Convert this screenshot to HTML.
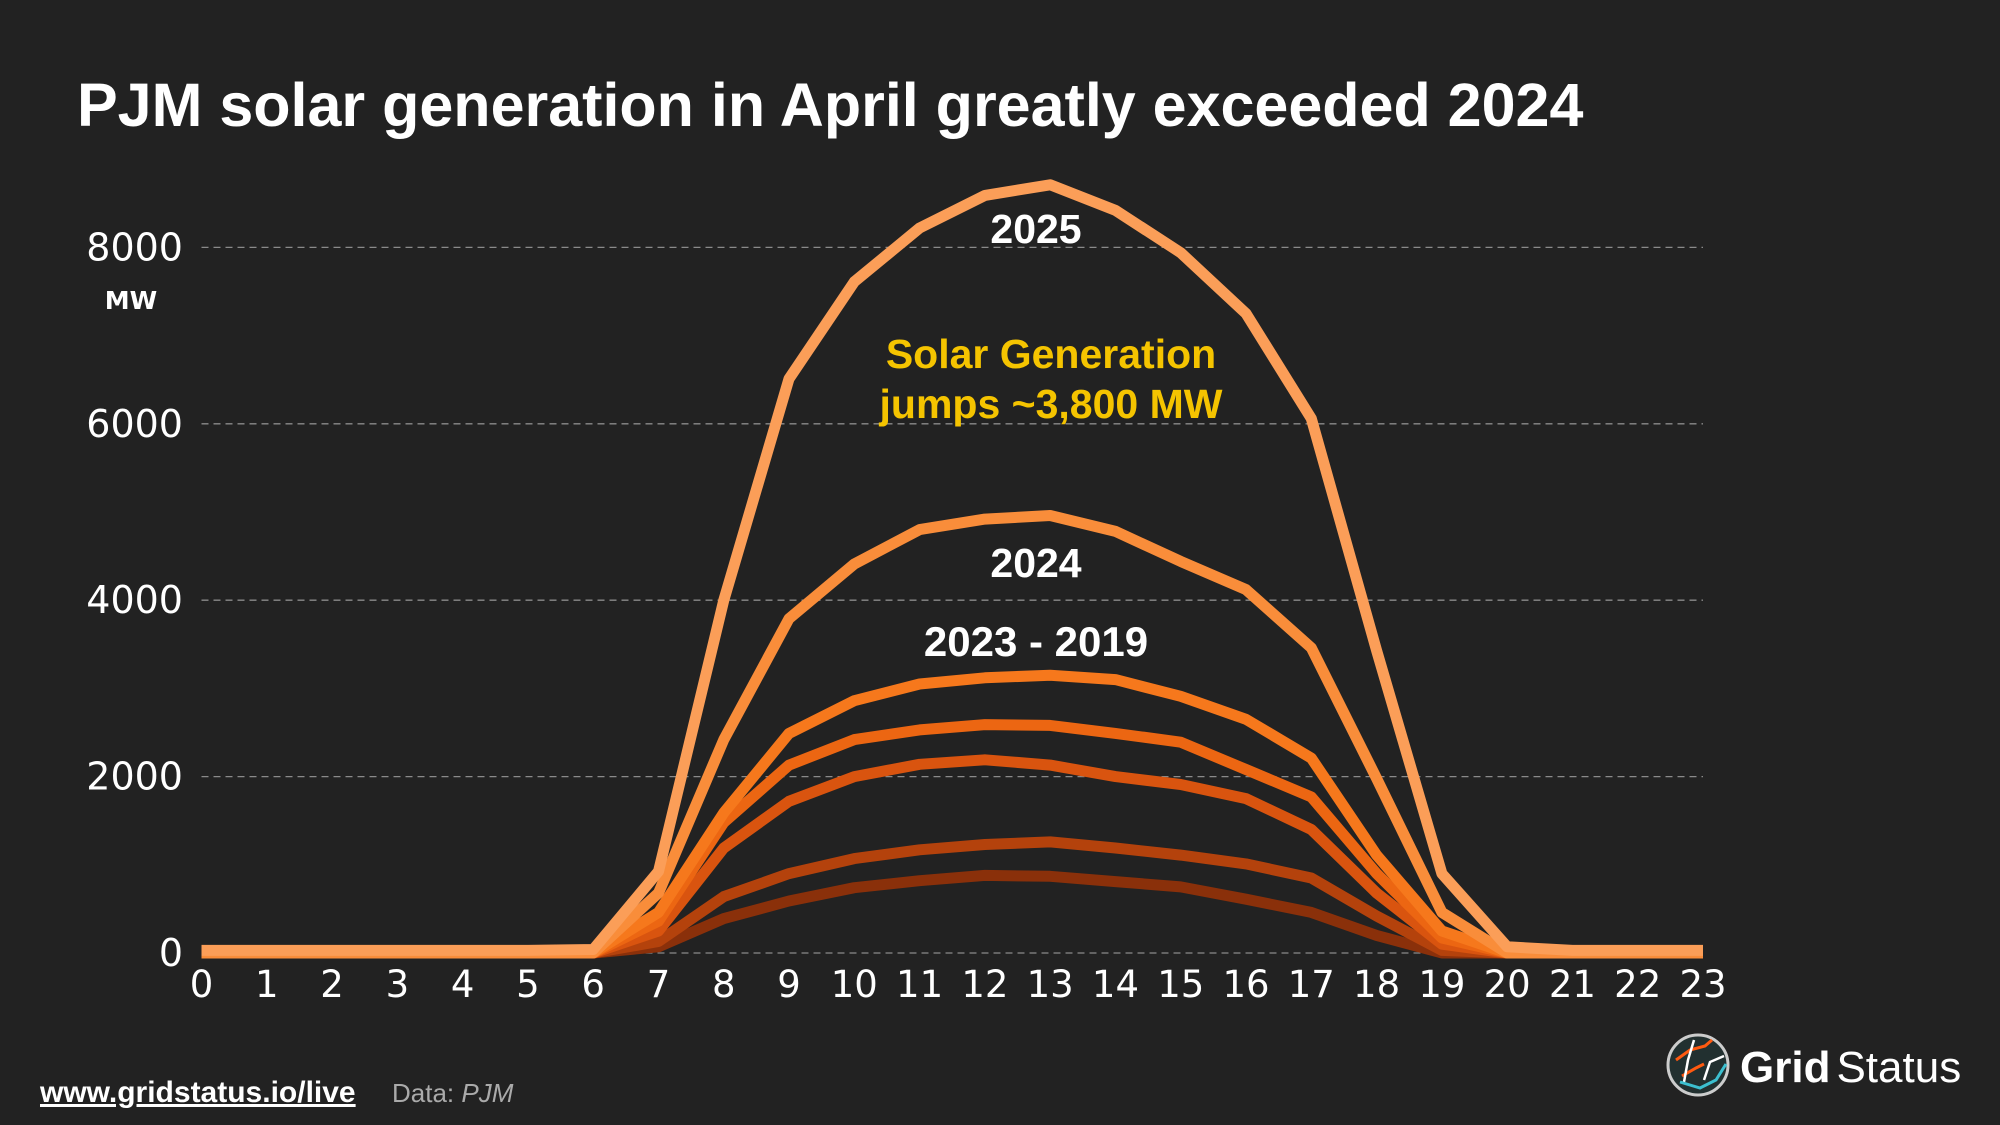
<!DOCTYPE html>
<html><head><meta charset="utf-8"><style>
html,body{margin:0;padding:0;background:#222222;}
svg{display:block;font-family:"Liberation Sans",sans-serif;}
</style></head><body>
<svg id="chart" width="2000" height="1125" viewBox="0 0 2000 1125">
<rect width="2000" height="1125" fill="#222222"/>
<text x="77" y="126" fill="#ffffff" font-size="61" font-weight="bold">PJM solar generation in April greatly exceeded 2024</text>
<g id="grid"></g>
<g id="yticks"></g>
<g id="xticks"></g>
<text x="131" y="309" fill="#ffffff" font-size="25" font-weight="bold" font-family="DejaVu Sans, sans-serif" text-anchor="middle">MW</text>
<g id="series"></g>
<text x="1036" y="243" fill="#ffffff" font-size="41" font-weight="bold" text-anchor="middle">2025</text>
<text x="1051" y="368" fill="#f5c400" font-size="41" font-weight="bold" text-anchor="middle">Solar Generation</text>
<text x="1051" y="418" fill="#f5c400" font-size="41" font-weight="bold" text-anchor="middle">jumps ~3,800 MW</text>
<text x="1036" y="577" fill="#ffffff" font-size="41" font-weight="bold" text-anchor="middle">2024</text>
<text x="1036" y="656" fill="#ffffff" font-size="42" font-weight="bold" text-anchor="middle">2023 - 2019</text>
<text x="40" y="1102" fill="#ffffff" font-size="30" font-weight="bold" text-decoration="underline">www.gridstatus.io/live</text>
<text x="392" y="1102" fill="#aaaaaa" font-size="26">Data: <tspan font-style="italic">PJM</tspan></text>
<g>
<circle cx="1698" cy="1065" r="30" fill="#223030" stroke="#cccccc" stroke-width="3"/>
<path d="M1676 1060 L1690 1050 L1705 1046 L1712 1040" stroke="#ff5a10" stroke-width="3" fill="none"/>
<path d="M1682 1076 L1696 1068 L1704 1064" stroke="#ff5a10" stroke-width="3" fill="none"/>
<path d="M1694 1040 L1688 1060 L1684 1082" stroke="#ffffff" stroke-width="2.5" fill="none"/>
<path d="M1724 1056 L1710 1062 L1704 1080" stroke="#ffffff" stroke-width="2.5" fill="none"/>
<path d="M1680 1082 L1700 1088 L1716 1080 L1726 1064" stroke="#3cc0d0" stroke-width="3" fill="none"/>
<text x="1740" y="1082" fill="#ffffff" font-size="44" font-weight="bold">Grid<tspan font-weight="normal" dx="6">Status</tspan></text>
</g>
</svg>
<script>
const hours = [0,1,2,3,4,5,6,7,8,9,10,11,12,13,14,15,16,17,18,19,20,21,22,23];
const yTicks = [0,2000,4000,6000,8000];
const years = ["2019","2020","2021","2022","2023","2024","2025"];
const colors = ["#8a300a","#b4420c","#d9540f","#ec6612","#f6781c","#f98d3a","#fb9e58"];
const s2019 = [0,0,0,0,0,0,0,70,390,590,740,820,880,870,810,750,610,460,200,0,0,0,0,0];
const s2020 = [0,0,0,0,0,0,0,130,640,900,1070,1170,1230,1260,1190,1110,1010,850,420,30,0,0,0,0];
const s2021 = [0,0,0,0,0,0,0,250,1190,1720,2000,2140,2190,2130,2000,1910,1750,1400,680,100,0,0,0,0];
const s2022 = [0,0,0,0,0,0,0,360,1480,2130,2420,2530,2590,2580,2490,2390,2080,1770,900,170,0,0,0,0];
const s2023 = [0,0,0,0,0,0,0,460,1590,2490,2860,3050,3120,3150,3100,2910,2650,2210,1110,250,0,0,0,0];
const s2024 = [0,0,0,0,0,0,0,680,2420,3790,4410,4800,4920,4960,4780,4440,4120,3460,1980,460,0,0,0,0];
const s2025 = [30,30,30,30,30,30,40,925,4000,6510,7610,8220,8590,8710,8420,7940,7250,6060,3430,900,70,30,30,30];
const allSeries = [s2019,s2020,s2021,s2022,s2023,s2024,s2025];

const NS = "http://www.w3.org/2000/svg";
const x0 = 201.5, x1 = 1703, yBase = 953, yTop = 247.4;
function xs(h){ return x0 + (h/23)*(x1-x0); }
function ys(v){ return yBase - (v/8000)*(yBase-yTop); }
function mk(tag, attrs, parent){ const e=document.createElementNS(NS,tag); for(const k in attrs) e.setAttribute(k,attrs[k]); parent.appendChild(e); return e; }

const grid = document.getElementById('grid');
const yt = document.getElementById('yticks');
yTicks.forEach(v=>{
  const l = mk('line',{x1:x0,x2:x1,y1:ys(v),y2:ys(v),stroke:'#8a8a8a','stroke-width':1.3,'stroke-dasharray':'7,5'},grid);
  
  
  const t = mk('text',{x:183,y:ys(v)+13,fill:'#ffffff','font-size':38,'text-anchor':'end','font-family':'DejaVu Sans, sans-serif'},yt);
  t.textContent = v;
  
  
});
const xt = document.getElementById('xticks');
hours.forEach(h=>{
  const t = mk('text',{x:xs(h),y:997,fill:'#ffffff','font-size':37,'text-anchor':'middle','font-family':'DejaVu Sans, sans-serif'},xt);
  t.textContent = h;
  
  
});
const sg = document.getElementById('series');
allSeries.forEach((s,i)=>{
  const d = s.map((v,h)=>(h?'L':'M')+xs(hours[h]).toFixed(1)+' '+ys(v).toFixed(1)).join(' ');
  const p = mk('path',{d:d,fill:'none',stroke:colors[i],'stroke-width':11,'stroke-linejoin':'round'},sg);
  
  
});
</script>
</body></html>
